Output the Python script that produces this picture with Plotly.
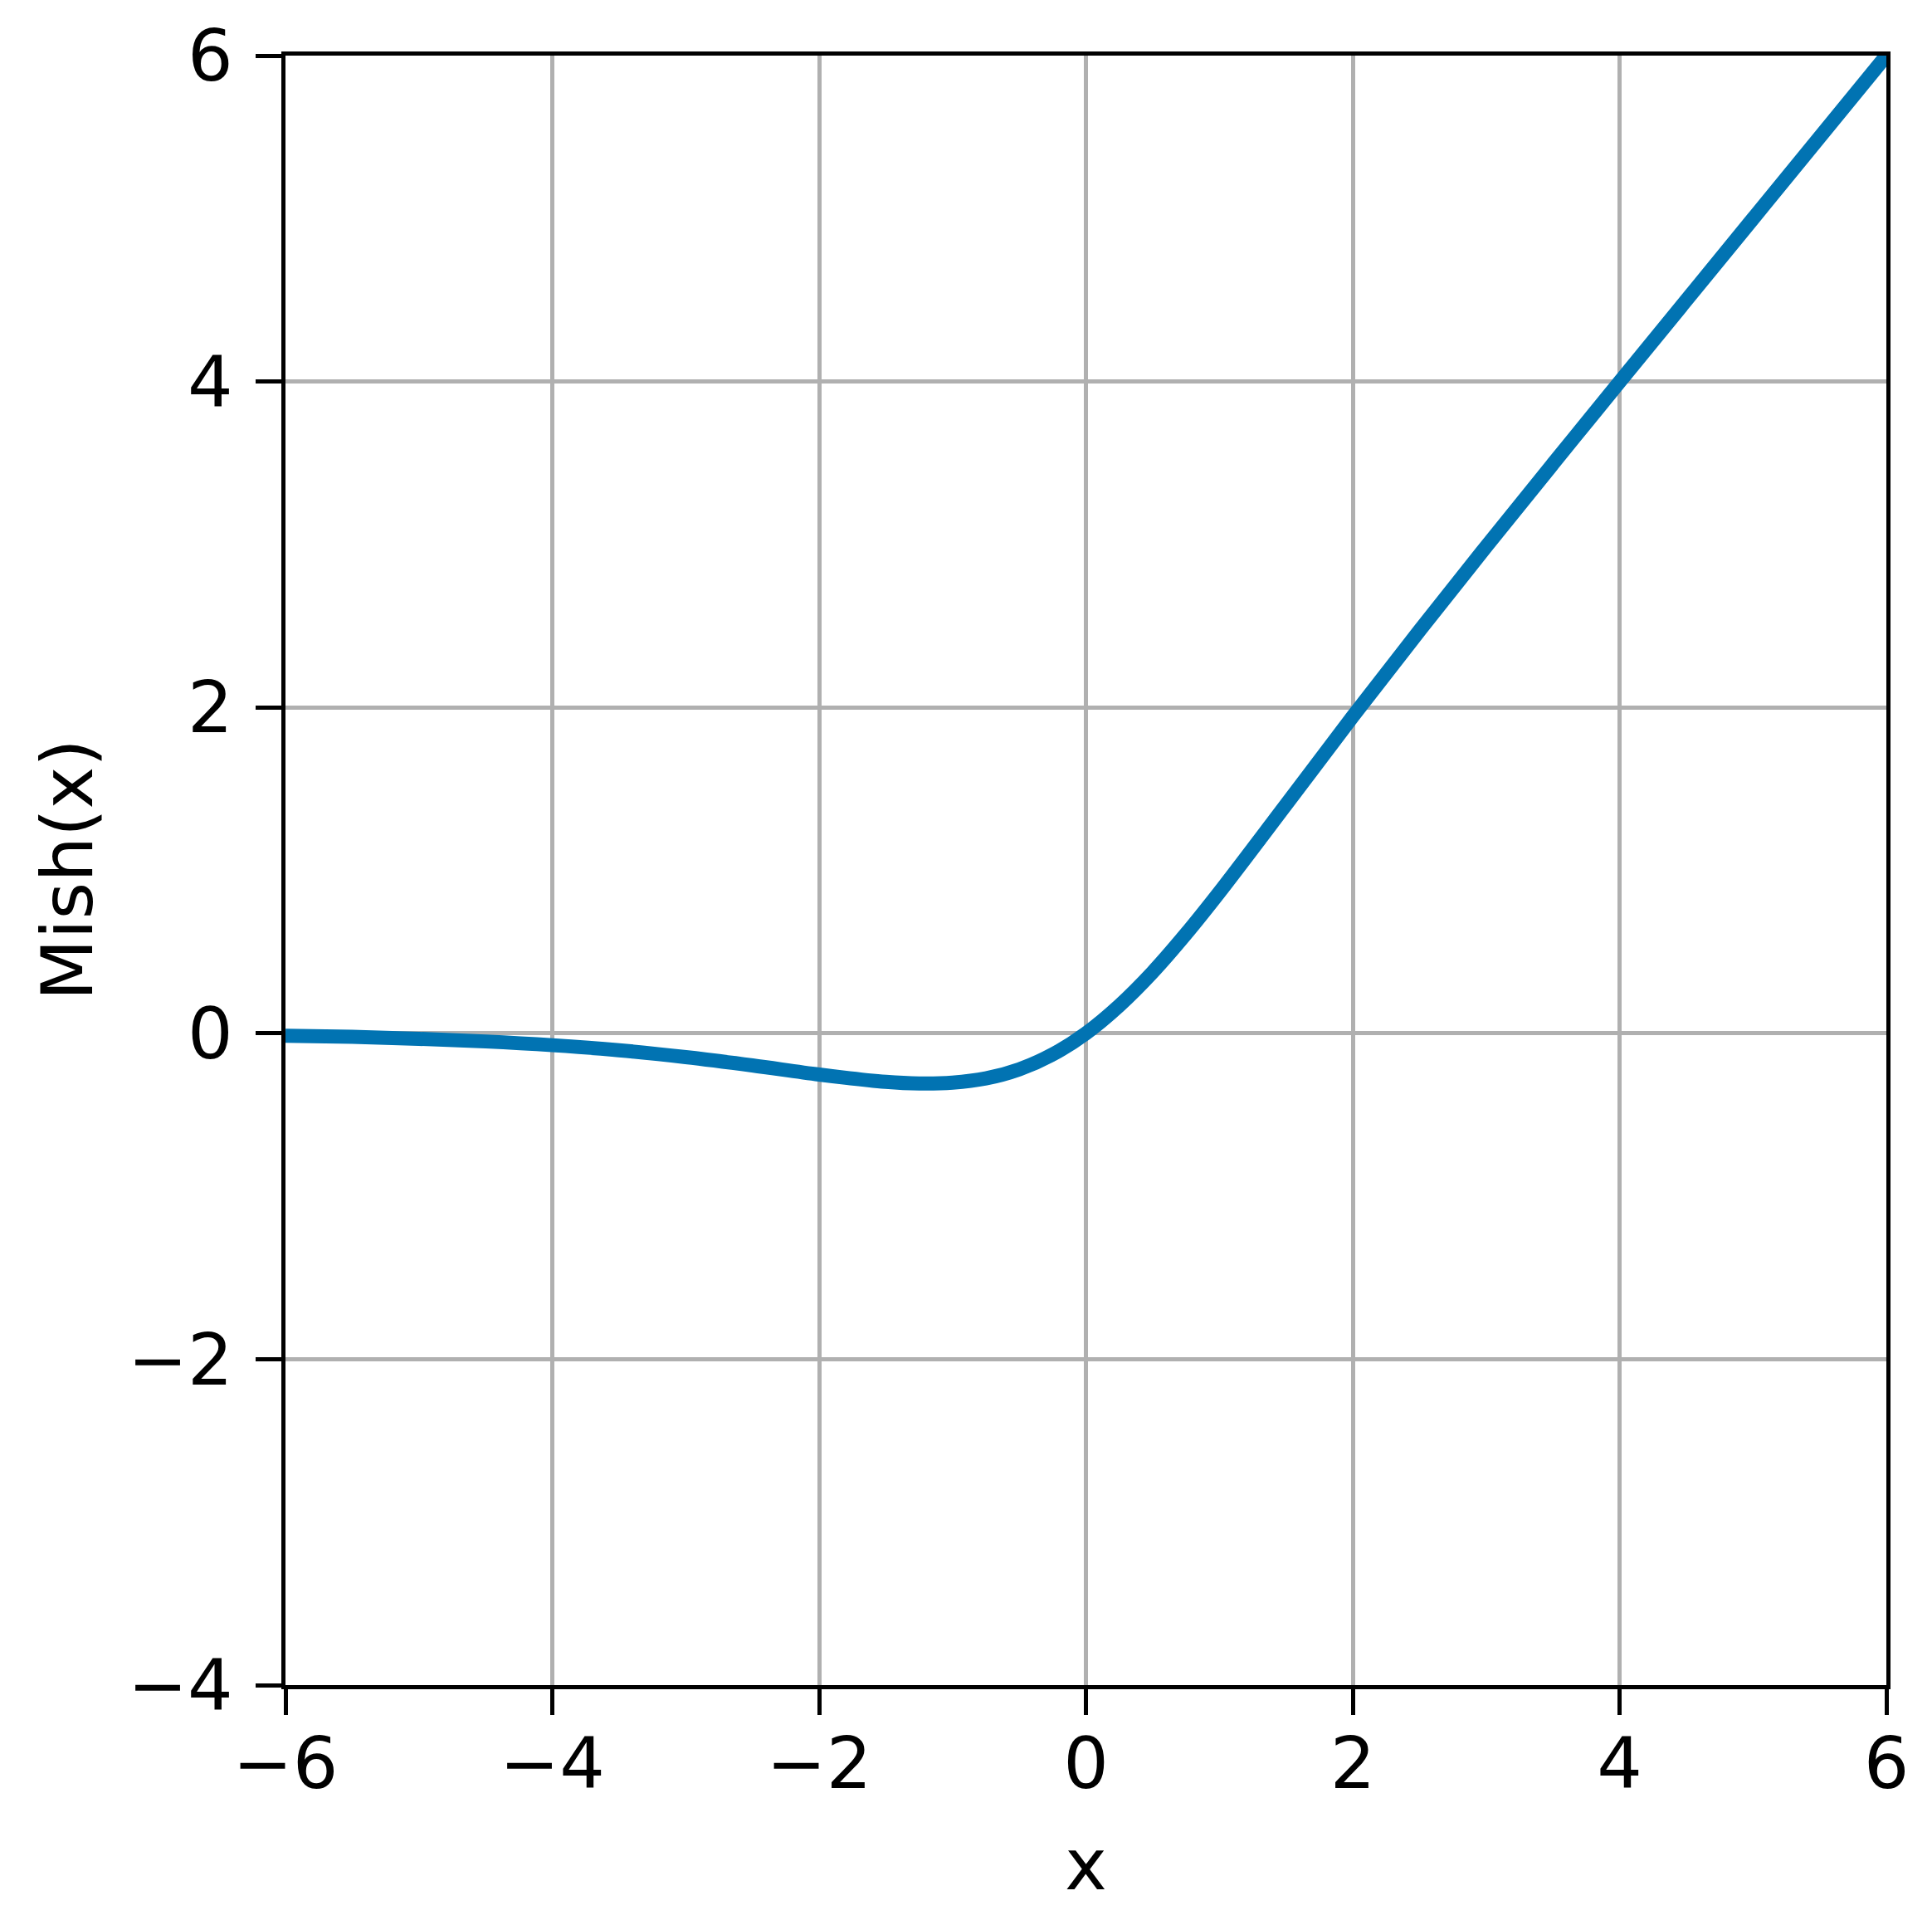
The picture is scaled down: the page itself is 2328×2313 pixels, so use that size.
import plotly.graph_objects as go

# Values
x_vals = [-6, -5.5, -5, -4.5, -4, -3.5, -3, -2.5, -2, -1.5, -1.25, -1, -0.75, -0.5, -0.25,
          0, 0.25, 0.5, 0.75, 1, 1.5, 2, 2.5, 3, 3.5, 4, 5, 6]
mish_vals = [-0.015, -0.022, -0.034, -0.050, -0.073, -0.104, -0.146, -0.197, -0.253, -0.298,
             -0.308, -0.303, -0.277, -0.221, -0.130, 0.0, 0.170, 0.375, 0.610, 0.865, 1.403,
             1.944, 2.471, 2.987, 3.494, 3.997, 4.999, 6.0]

x_ticks = [-6, -4, -2, 0, 2, 4, 6]
y_ticks = [-4, -2, 0, 2, 4, 6]

W, H = 2328, 2313
OFF = 8  # default page body margin
L, R, T, B = 344 - OFF, 55 + OFF, 67 - OFF, 283 + OFF
FONT = "DejaVu Sans"
FS = 86

fig = go.Figure()
fig.add_trace(go.Scatter(
    x=x_vals, y=mish_vals, mode="lines",
    line=dict(color="#0173B2", width=17, shape="spline", smoothing=1.0),
    showlegend=False, hoverinfo="skip", cliponaxis=True,
))

axis_common = dict(
    showline=True, linecolor="black", linewidth=5, mirror=True,
    ticks="outside", ticklen=31, tickwidth=5, tickcolor="black",
    showgrid=True, gridcolor="#b0b0b0", gridwidth=4.5,
    zeroline=False,
    tickfont=dict(family=FONT, size=FS, color="black"),
)

fig.update_xaxes(range=[-6, 6], tickvals=x_ticks, ticktext=[str(v).replace("-", "\u2212") for v in x_ticks],
                 ticklabelstandoff=-15, **axis_common)
fig.update_yaxes(range=[-4, 6], tickvals=y_ticks, ticktext=[str(v).replace("-", "\u2212") for v in y_ticks],
                 ticklabelstandoff=10, **axis_common)

pw = W - L - R
ph = H - T - B
plot_bottom_page = OFF + H - B
fig.add_annotation(text="Mish(x)", xref="paper", yref="paper",
                   x=(80 - (L + OFF)) / pw, y=0.5, xanchor="center", yanchor="middle",
                   textangle=-90, showarrow=False,
                   font=dict(family=FONT, size=FS, color="black"))
fig.add_annotation(text="x", xref="paper", yref="paper",
                   x=0.5, y=-(2246 - plot_bottom_page) / ph, xanchor="center", yanchor="middle",
                   showarrow=False,
                   font=dict(family=FONT, size=FS, color="black"))

fig.update_layout(
    width=W, height=H,
    margin=dict(l=L, r=R, t=T, b=B, autoexpand=False),
    paper_bgcolor="white", plot_bgcolor="white",
)

fig.write_html("out.html")
